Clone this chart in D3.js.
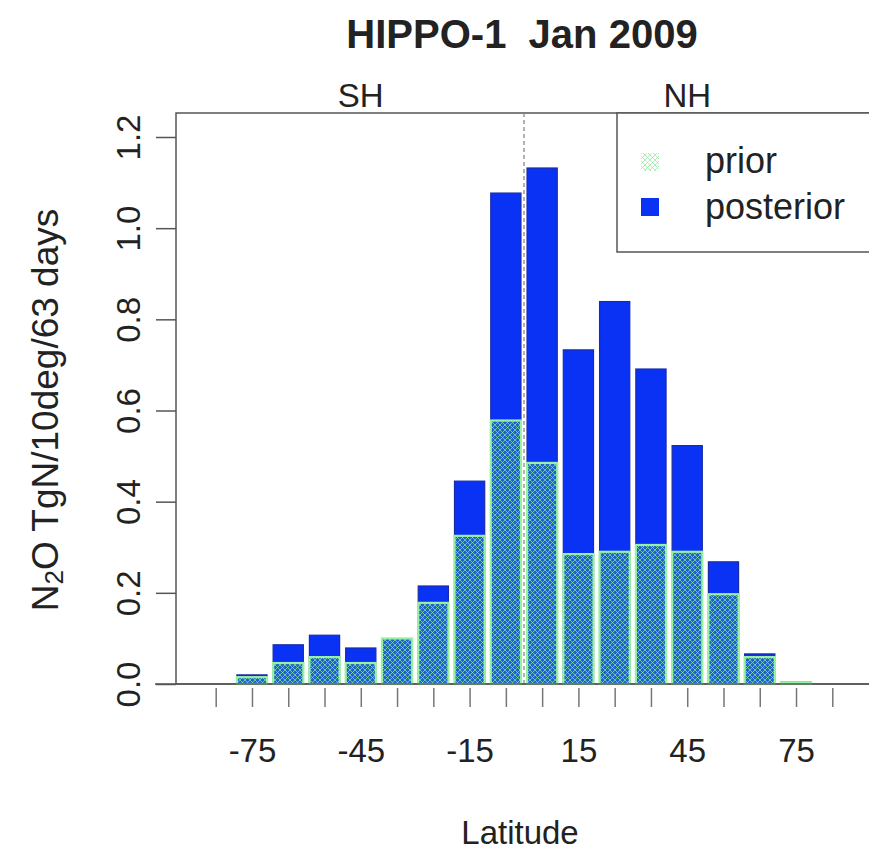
<!DOCTYPE html>
<html><head><meta charset="utf-8">
<script src="https://cdn.jsdelivr.net/npm/d3@7"></script>
<style>
html,body{margin:0;padding:0;background:#fff;}
svg text{font-family:"Liberation Sans",Arial,sans-serif;fill:#222;}
</style></head>
<body>
<svg id="chart" width="869" height="849"></svg>
<script>
// ---- data ----
const latitudes = [-85,-75,-65,-55,-45,-35,-25,-15,-5,5,15,25,35,45,55,65,75,85];
const posterior = [0,0.020,0.086,0.107,0.079,0.098,0.215,0.445,1.077,1.132,0.733,0.839,0.691,0.523,0.268,0.066,0.005,0];
const prior     = [0,0.015,0.046,0.059,0.046,0.100,0.178,0.325,0.578,0.485,0.285,0.290,0.305,0.290,0.197,0.059,0.004,0];
const xTickLabels = [-75,-45,-15,15,45,75];
const yTicks = [0,0.2,0.4,0.6,0.8,1.0,1.2];
const hemiLabels = [{lat:-45,text:"SH"},{lat:45,text:"NH"}];
const legendItems = ["prior","posterior"];

const svg = d3.select("#chart");
const x = d3.scaleLinear().domain([-85,85]).range([215.7,832.3]);
const y = d3.scaleLinear().domain([0,1.2]).range([684,137]);
const bw = (x(10)-x(0))*0.833;
const plot = {left:176, top:113, right:900, bottom:684};

const defs = svg.append("defs");
const pat = defs.append("pattern").attr("id","hatch").attr("patternUnits","userSpaceOnUse")
  .attr("width",5).attr("height",5);
pat.append("path").attr("d","M0,0 L5,5 M5,0 L0,5 M-1,4 L1,6 M4,-1 L6,1 M-1,1 L1,-1 M4,6 L6,4")
  .attr("stroke","#8ee89a").attr("stroke-width",0.7).attr("fill","none");

// box
svg.append("rect").attr("x",plot.left).attr("y",plot.top)
  .attr("width",plot.right-plot.left).attr("height",plot.bottom-plot.top)
  .attr("fill","none").attr("stroke","#555").attr("stroke-width",1.5);

// dashed equator line
svg.append("line").attr("x1",x(0)).attr("x2",x(0)).attr("y1",plot.top).attr("y2",plot.bottom)
  .attr("stroke","#888").attr("stroke-width",1.3).attr("stroke-dasharray","4,3");

// posterior bars
svg.append("g").selectAll("rect").data(latitudes).join("rect")
  .attr("x",(d)=>x(d)-bw/2).attr("width",bw)
  .attr("y",(d,i)=>y(posterior[i])).attr("height",(d,i)=>y(0)-y(posterior[i]))
  .attr("fill","#0a32f4").attr("stroke","#1a2aa8").attr("stroke-width",1.2);

// prior bars (hatched over)
const pg = svg.append("g");
pg.selectAll("rect.pb").data(latitudes).join("rect").attr("class","pb")
  .attr("x",(d)=>x(d)-bw/2).attr("width",bw)
  .attr("y",(d,i)=>y(prior[i])).attr("height",(d,i)=>y(0)-y(prior[i]))
  .attr("fill","#1e62cc").attr("stroke","none");
pg.selectAll("rect.ph").data(latitudes).join("rect").attr("class","ph")
  .attr("x",(d)=>x(d)-bw/2).attr("width",bw)
  .attr("y",(d,i)=>y(prior[i])).attr("height",(d,i)=>y(0)-y(prior[i]))
  .attr("fill","url(#hatch)").attr("stroke",(d,i)=>prior[i]>0?"#98f0a4":"none").attr("stroke-width",2.2);

// baseline line
svg.append("line").attr("x1",155).attr("x2",869).attr("y1",y(0)).attr("y2",y(0))
  .attr("stroke","#555").attr("stroke-width",1.5);

// y axis
const yAxis = d3.axisLeft(y).tickValues(yTicks).tickSize(20).tickFormat(d3.format(".1f"));
const ya = svg.append("g").attr("transform",`translate(${plot.left},0)`).call(yAxis);
ya.select(".domain").remove();
ya.selectAll(".tick line").attr("stroke","#555").attr("stroke-width",1.5);
ya.selectAll(".tick text").attr("x",0).attr("dy",null)
  .attr("transform","translate(-48,0) rotate(-90)").attr("text-anchor","middle")
  .attr("dominant-baseline","central").attr("font-size",33).attr("fill","#222")
  .style("font-family","'Liberation Sans',Arial,sans-serif");

// x axis
const xAxis = d3.axisBottom(x).tickValues(latitudes).tickSize(19).tickFormat(d=>xTickLabels.includes(d)?d:"");
const xa = svg.append("g").attr("transform",`translate(0,688)`).call(xAxis);
xa.select(".domain").remove();
xa.selectAll(".tick line").attr("stroke","#777").attr("stroke-width",1.5);
xa.selectAll(".tick text").attr("y",62).attr("dy",null).attr("dominant-baseline","central")
  .attr("font-size",33).attr("fill","#222").style("font-family","'Liberation Sans',Arial,sans-serif");

// hemisphere labels
svg.append("g").selectAll("text").data(hemiLabels).join("text")
  .attr("x",d=>x(d.lat)).attr("y",95).attr("text-anchor","middle").attr("dominant-baseline","central")
  .attr("font-size",33).text(d=>d.text);

// title
svg.append("text").attr("x",522).attr("y",34).attr("text-anchor","middle").attr("dominant-baseline","central")
  .attr("font-size",40).attr("font-weight","bold").attr("fill","#111")
  .style("white-space","pre").text("HIPPO-1\u00a0 Jan 2009");

// x label
svg.append("text").attr("x",520).attr("y",832).attr("text-anchor","middle").attr("dominant-baseline","central")
  .attr("font-size",33).text("Latitude");

// y label
const yl = svg.append("text").attr("transform","translate(45,410) rotate(-90)")
  .attr("text-anchor","middle").attr("dominant-baseline","central").attr("font-size",37);
yl.append("tspan").text("N");
yl.append("tspan").attr("font-size",26).attr("dy",9).text("2");
yl.append("tspan").attr("dy",-9).text("O TgN/10deg/63 days");

// legend
const lg = svg.append("g");
lg.append("rect").attr("x",617).attr("y",113).attr("width",300).attr("height",139)
  .attr("fill","#fff").attr("stroke","#555").attr("stroke-width",1.5);
lg.selectAll("rect.sym").data(legendItems).join("rect").attr("class","sym")
  .attr("x",641).attr("y",(d,i)=>153+i*45).attr("width",18).attr("height",18)
  .attr("fill",(d,i)=>i===0?"url(#hatch)":"#0a32f4");
lg.selectAll("text").data(legendItems).join("text")
  .attr("x",705).attr("y",(d,i)=>160+i*46).attr("dominant-baseline","central")
  .attr("font-size",36).text(d=>d);
</script>
</body></html>
